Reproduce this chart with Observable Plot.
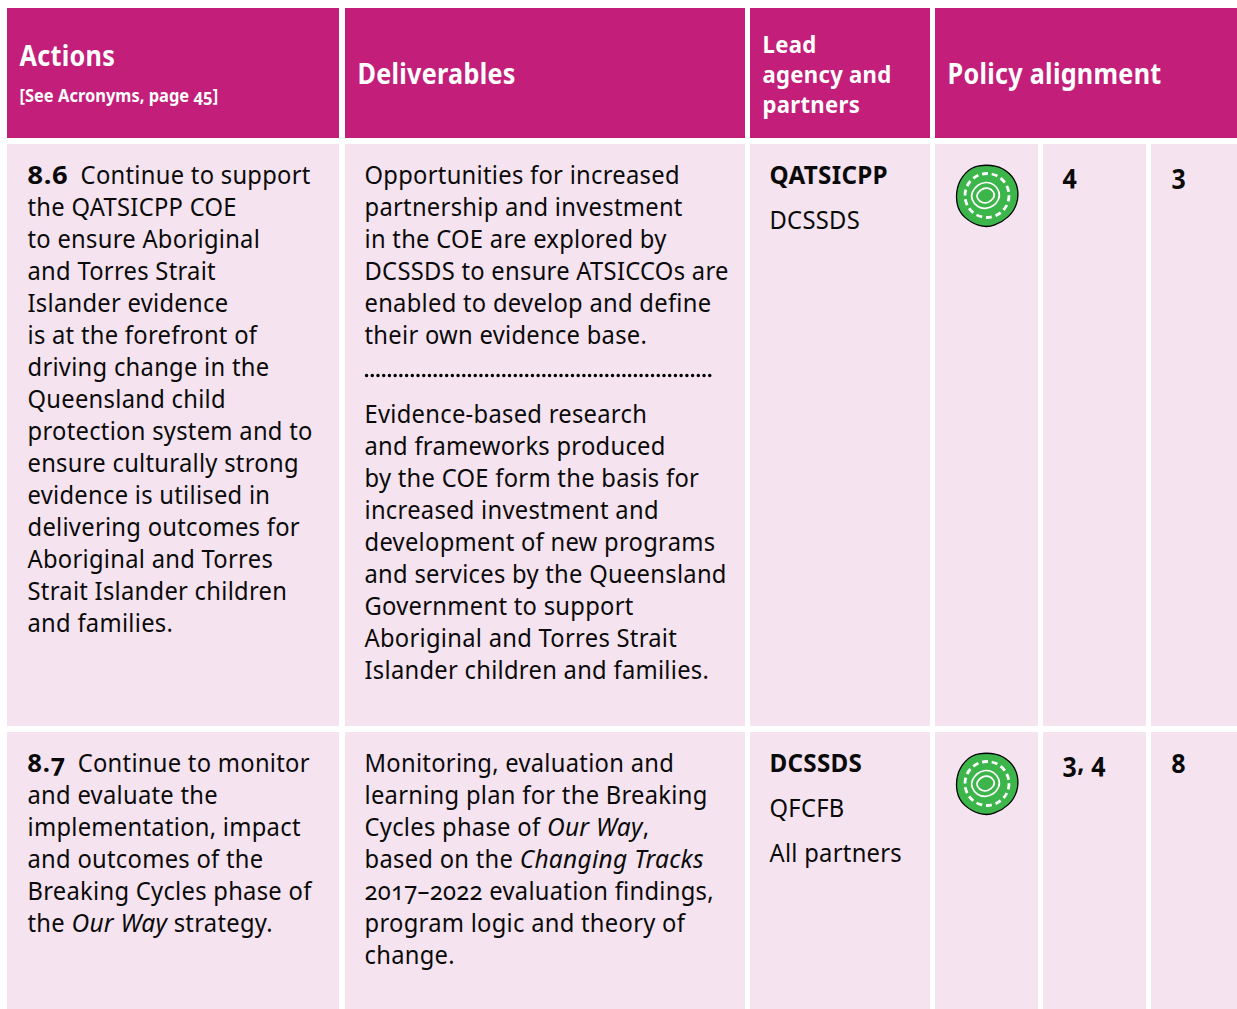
<!DOCTYPE html>
<html><head><meta charset="utf-8">
<style>html,body{margin:0;padding:0;background:#fff;overflow:hidden}svg{display:block;font-variant-numeric:oldstyle-nums}</style>
<script src="https://cdn.jsdelivr.net/npm/d3@7"></script>
<script src="https://cdn.jsdelivr.net/npm/@observablehq/plot@0.6"></script>
</head><body><div id="chart"></div>
<script>
// ---- content ----
const headerActions = ["Actions"];
const headerNote = ["[See Acronyms, page 45]"];
const headerDeliverables = ["Deliverables"];
const headerLead = ["Lead", "agency and", "partners"];
const headerPolicy = ["Policy alignment"];

const actions86 = ["**8.6**  Continue to support","the QATSICPP COE","to ensure Aboriginal","and Torres Strait","Islander evidence","is at the forefront of","driving change in the","Queensland child","protection system and to","ensure culturally strong","evidence is utilised in","delivering outcomes for","Aboriginal and Torres","Strait Islander children","and families."];
const deliverables86a = ["Opportunities for increased","partnership and investment","in the COE are explored by","DCSSDS to ensure ATSICCOs are","enabled to develop and define","their own evidence base."];
const deliverables86b = ["Evidence-based research","and frameworks produced","by the COE form the basis for","increased investment and","development of new programs","and services by the Queensland","Government to support","Aboriginal and Torres Strait","Islander children and families."];
const lead86 = ["**QATSICPP**","DCSSDS"];
const actions87 = ["**8.7**  Continue to monitor","and evaluate the","implementation, impact","and outcomes of the","Breaking Cycles phase of","the *Our Way* strategy."];
const deliverables87 = ["Monitoring, evaluation and","learning plan for the Breaking","Cycles phase of *Our Way*,","based on the *Changing Tracks*","2017–2022 evaluation findings,","program logic and theory of","change."];
const lead87 = ["**DCSSDS**","QFCFB","All partners"];
const policyA = ["4","3, 4"];
const policyB = ["3","8"];

// ---- page layout (not data) ----
const W = 1237, H = 1009;
const FONT = '"Noto Sans"';
const BODY = 25.5, TRACK = 0.3;
const SQUEEZE = {regular:0.932, bold:0.95, italic:0.96}; // reference face is narrower than Noto Sans
const PINK = "#c21e7a", TINT = "#f5e3ef", INK = "#0a0a0a";

const headerCells = [[7,339],[345,745],[750,930],[935,1237]];
const bodyCols = [[7,339],[345,745],[750,930],[935,1038],[1043,1146],[1151,1237]];
const bodyRows = [[144,726],[732,1009]];
const rects = [
  ...headerCells.map(([x1,x2]) => ({x1,x2,y1:8,y2:138,fill:PINK})),
  ...bodyRows.flatMap(([y1,y2]) => bodyCols.map(([x1,x2]) => ({x1,x2,y1,y2,fill:TINT})))
];

const ctx = document.createElement("canvas").getContext("2d");
function measure(t, bold, italic, size, track) {
  ctx.font = `${italic?"italic ":""}${bold?"bold ":""}${size}px ${FONT}`;
  ctx.letterSpacing = track + "px";
  return ctx.measureText(t).width;
}
function runs(s) {
  return s.split(/(\*\*[^*]+\*\*|\*[^*]+\*)/).filter(Boolean).map(p =>
    p.startsWith("**") ? {t:p.slice(2,-2),bold:true} :
    p.startsWith("*") ? {t:p.slice(1,-1),italic:true} : {t:p});
}
function block(lines, x, y, step, opts = {}) {
  const size = opts.size ?? BODY, track = opts.track ?? TRACK, out = [];
  lines.forEach((line, i) => {
    let cx = x;
    for (const r of runs(line)) {
      const bold = r.bold || opts.bold, italic = r.italic;
      const numberSx = r.t === "8.6" ? 1.08 : 1.0;
      const isNumber = r.bold && /^\d/.test(r.t);
      const sx = opts.sx ?? (isNumber ? numberSx : italic ? SQUEEZE.italic : bold ? SQUEEZE.bold : SQUEEZE.regular);
      out.push({text:r.t, x:cx, y:y+i*step, size, track, sx, fill:opts.fill ?? INK,
        weight:bold?"bold":"normal", italic:italic?"italic":"normal"});
      cx += measure(r.t, bold, italic, size, track) * sx;
    }
  });
  return out;
}
const HW = {bold:true, fill:"#fff"};
const texts = [
  ...block(headerActions,19,65,0,{...HW,size:28,sx:0.9}),
  ...block(headerNote,19,101,0,{...HW,size:17,track:0,sx:0.97}),
  ...block(headerDeliverables,357,83,0,{...HW,size:28,sx:0.9}),
  ...block(headerLead,762,52.5,30,{...HW,size:23.8,sx:0.93}),
  ...block(headerPolicy,947,83,0,{...HW,size:28,sx:0.9}),
  ...block(actions86,27,183,32),
  ...block(deliverables86a,364,183,32),
  ...block(deliverables86b,364,422.5,32),
  ...block(lead86,769,183,45),
  ...block(actions87,27,771,32),
  ...block(deliverables87,364,771,32),
  ...block(lead87,769,771,45),
  ...block([policyA[0]],1062,183,0,{bold:true,size:27,sx:0.92}),
  ...block([policyB[0]],1171,183,0,{bold:true,size:27,sx:0.92}),
  ...block([policyA[1]],1062,771,0,{bold:true,size:27,sx:0.92}),
  ...block([policyB[1]],1171,772,0,{bold:true,size:27,sx:0.92}),
];

// hand-drawn looking symbol: a wobbly closed loop described by polar radii (unit radius)
const wobble = (radii, rot = 0) => ({draw(c, size) {
  const R = Math.sqrt(size / Math.PI), n = radii.length;
  const pt = i => { const a = rot + (i % n) / n * 2 * Math.PI; return [Math.cos(a)*R*radii[i%n], Math.sin(a)*R*radii[i%n]]; };
  const mid = (p,q) => [(p[0]+q[0])/2,(p[1]+q[1])/2];
  let m = mid(pt(n-1), pt(0));
  c.moveTo(m[0], m[1]);
  for (let i = 0; i < n; i++) { const p = pt(i), q = mid(p, pt(i+1)); c.quadraticCurveTo(p[0],p[1],q[0],q[1]); }
  c.closePath();
}});
const outerBlob = wobble([1.0,.98,.96,1.01,.99,1.02,.98,.99,1.01,.97,1.0,1.02]);
const midRing   = wobble([1.05,.97,.94,.98,1.02,1.05,.96,.95,1.0,1.03]);
const coreRing  = wobble([1.15,.92,.92,1.02,1.1,.9,.92,1.05]);
const iconCentres = [{x:986.5,y:195},{x:986.5,y:783}];

const chart = Plot.plot({
  width:W, height:H, margin:0,
  x:{domain:[0,W],range:[0,W],axis:null}, y:{domain:[0,H],range:[0,H],axis:null},
  style:{background:"#fff",fontFamily:FONT},
  marks:[
    Plot.rect(rects,{x1:"x1",x2:"x2",y1:"y1",y2:"y2",fill:"fill"}),
    Plot.ruleY([375],{x1:366.5,x2:714,stroke:"#000",strokeWidth:3.4,strokeLinecap:"round",strokeDasharray:"0.1 5.62"}),
    Plot.dot(iconCentres,{x:"x",y:"y",r:32,symbol:outerBlob,fill:"#3cb54a",stroke:"#000",strokeWidth:1.3}),
    Plot.dot(iconCentres,{x:"x",y:"y",r:22,symbol:"circle",fill:"none",stroke:"#fff",strokeWidth:2.8,strokeDasharray:"6 3.8"}),
    Plot.dot(iconCentres,{x:d=>d.x-1.5,y:"y",r:14,symbol:midRing,fill:"none",stroke:"#fff",strokeWidth:1.7}),
    Plot.dot(iconCentres,{x:d=>d.x-1.5,y:"y",r:8.5,symbol:coreRing,fill:"none",stroke:"#fff",strokeWidth:1.7}),
    ...d3.groups(texts, d => `${d.size}|${d.weight}|${d.italic}|${d.track}|${d.fill}|${d.sx}`).map(([,g]) =>
      Plot.text(g,{x:"x",y:"y",text:"text",textAnchor:"start",lineAnchor:"bottom",
        fontSize:g[0].size,fontWeight:g[0].weight,fontStyle:g[0].italic,fill:g[0].fill,
        render(i,s,v,d,c,next){
          const e=next(i,s,v,d,c);
          e.style.letterSpacing=g[0].track+"px"; e.style.whiteSpace="pre";
          e.querySelectorAll("text").forEach(t=>t.setAttribute("transform",`${t.getAttribute("transform")||""} scale(${g[0].sx},1)`));
          return e;
        }}))
  ]
});
document.getElementById("chart").append(chart);
</script></body></html>
